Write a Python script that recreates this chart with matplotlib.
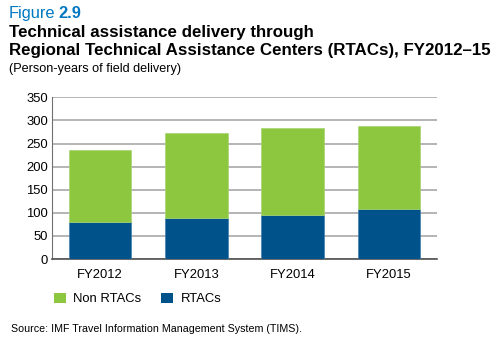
import matplotlib
matplotlib.use("Agg")
import matplotlib.pyplot as plt
from matplotlib.patches import Patch

plt.rcParams['font.family'] = ['Liberation Sans', 'DejaVu Sans']

years = ['FY2012', 'FY2013', 'FY2014', 'FY2015']
rtacs = [81, 89, 96, 108]
non_rtacs = [156, 184, 188, 179]
yticks = [0, 50, 100, 150, 200, 250, 300, 350]

GREEN = '#8dc63f'
BLUE = '#00528a'
TITLE_BLUE = '#0078c1'

W, H = 500, 341
fig = plt.figure(figsize=(W / 100, H / 100), dpi=100)

def px(x, y):
    return x / W, 1 - y / H

# heading block
fig_lbl = fig.text(*px(9, 18), 'Figure', color=TITLE_BLUE, fontsize=11.8, va='baseline')
renderer = fig.canvas.get_renderer()
lbl_end = fig_lbl.get_window_extent(renderer).x1
fig.text(lbl_end / W + 3 / W, 1 - 18 / H, '2.9', color=TITLE_BLUE, fontsize=11.8,
         fontweight='bold', va='baseline')
fig.text(*px(9, 36.5), 'Technical assistance delivery through', fontsize=12.2,
         fontweight='bold', va='baseline')
fig.text(*px(9, 55), 'Regional Technical Assistance Centers (RTACs), FY2012\u201315',
         fontsize=12.2, fontweight='bold', va='baseline')
fig.text(*px(9, 72), '(Person-years of field delivery)', fontsize=9.1, va='baseline')

ax = fig.add_axes([52 / W, 1 - 259 / H, 385 / W, (259 - 97.3) / H])
x = range(len(years))
ax.bar(x, rtacs, width=0.65, color=BLUE, edgecolor='#3f7fb0', linewidth=0.5, zorder=3)
ax.bar(x, non_rtacs, width=0.65, bottom=rtacs, color=GREEN, edgecolor='#a8d672',
       linewidth=0.5, zorder=3)

ax.set_xlim(-0.5, 3.5)
ax.set_ylim(0, 350)
ax.set_yticks(yticks)
ax.set_xticks(list(x))
ax.set_xticklabels(years)
ax.tick_params(axis='both', length=0, labelsize=9.4, colors='black')
ax.tick_params(axis='x', pad=7)
ax.tick_params(axis='y', pad=3)
ax.yaxis.grid(True, color='#a0a0a0', linewidth=1.1, zorder=0)
ax.set_axisbelow(True)
for side in ('top', 'right'):
    ax.spines[side].set_visible(False)
ax.spines['left'].set_color('#707070')
ax.spines['left'].set_linewidth(0.8)
ax.spines['bottom'].set_color('#505050')
ax.spines['bottom'].set_linewidth(1.2)

handles = [Patch(facecolor=GREEN, label='Non RTACs'), Patch(facecolor=BLUE, label='RTACs')]
fig.legend(handles=handles, loc='center left', bbox_to_anchor=px(42, 299), ncol=2,
           frameon=False, fontsize=9.4, handlelength=0.9, handleheight=0.9,
           handletextpad=0.6, columnspacing=1.5)

fig.text(*px(11, 332), 'Source: IMF Travel Information Management System (TIMS).',
         fontsize=7.7, va='baseline')

fig.savefig('out.png', dpi=100)
